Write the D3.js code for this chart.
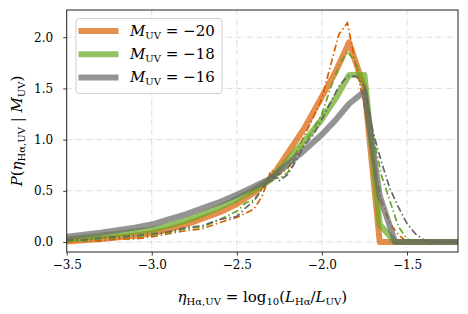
<!DOCTYPE html>
<html>
<head>
<meta charset="utf-8">
<script src="https://cdn.jsdelivr.net/npm/d3@7"></script>
<style>
  body { margin: 0; background: #fff; }
  svg { display: block; }
  text { font-family: 'DejaVu Serif', 'Liberation Serif', serif; fill: #000; }
</style>
</head>
<body>
<div id="chart"></div>
<script>
// model curves (thick) and binned curves (dash-dot)
const xModel = [-3.5, -3.3, -3.1, -3.0, -2.9, -2.8, -2.7, -2.6, -2.5, -2.4, -2.3, -2.2, -2.1, -2.0, -1.92, -1.84, -1.75, -1.66, -1.57, -1.2];
const model20 = [0.005, 0.03, 0.06, 0.085, 0.12, 0.17, 0.23, 0.29, 0.37, 0.48, 0.62, 0.87, 1.12, 1.42, 1.66, 1.95, 1.50, 0, 0, 0];
const model18 = [0.025, 0.06, 0.10, 0.12, 0.16, 0.21, 0.27, 0.34, 0.42, 0.51, 0.61, 0.80, 0.99, 1.20, 1.40, 1.63, 1.63, 0.17, 0, 0];
const model16 = [0.05, 0.09, 0.14, 0.17, 0.22, 0.27, 0.33, 0.39, 0.46, 0.54, 0.62, 0.76, 0.90, 1.05, 1.19, 1.35, 1.47, 0.45, 0, 0];

const xObs = [-3.5, -3.4, -3.3, -3.2, -3.1, -3.0, -2.9, -2.8, -2.7, -2.6, -2.5, -2.45, -2.4, -2.35, -2.3, -2.25, -2.2, -2.15, -2.1, -2.05, -2.0, -1.95, -1.9, -1.85, -1.8, -1.75, -1.7, -1.65, -1.6, -1.55, -1.5, -1.45, -1.4, -1.35, -1.3, -1.2];
const obs20 = [0.00, 0.01, 0.01, 0.03, 0.03, 0.05, 0.08, 0.11, 0.13, 0.19, 0.24, 0.28, 0.32, 0.45, 0.70, 0.66, 0.72, 0.88, 1.05, 1.22, 1.40, 1.72, 2.03, 2.14, 1.72, 1.33, 0.80, 0.40, 0.18, 0.07, 0.00, 0, 0, 0, 0, 0];
const obs18 = [0.01, 0.01, 0.03, 0.04, 0.05, 0.07, 0.09, 0.13, 0.15, 0.22, 0.30, 0.38, 0.41, 0.52, 0.64, 0.62, 0.68, 0.84, 0.97, 1.10, 1.25, 1.50, 1.72, 1.86, 1.75, 1.50, 1.05, 0.65, 0.40, 0.15, 0.03, 0, 0, 0, 0, 0];
const obs16 = [0.02, 0.02, 0.04, 0.05, 0.06, 0.08, 0.10, 0.14, 0.16, 0.22, 0.25, 0.33, 0.40, 0.52, 0.65, 0.60, 0.66, 0.80, 0.95, 1.05, 1.20, 1.36, 1.52, 1.62, 1.62, 1.52, 1.08, 0.78, 0.52, 0.34, 0.18, 0.08, 0.02, 0, 0, 0];

const muvLabels = ['\u221220', '\u221218', '\u221216'];
const colors = ['#d95f02', '#66a61e', '#666666'];
const xTicks = [-3.5, -3.0, -2.5, -2.0, -1.5];
const yTicks = [0.0, 0.5, 1.0, 1.5, 2.0];

const W = 468, H = 314;
const margin = { top: 10, right: 10, bottom: 62, left: 66.7 };

const svg = d3.select('#chart').append('svg').attr('width', W).attr('height', H);

const x = d3.scaleLinear().domain([-3.5, -1.2]).range([margin.left, W - margin.right]);
const y = d3.scaleLinear().domain([-0.098, 2.266]).range([H - margin.bottom, margin.top]);

const fmt = (d) => (d < 0 ? '\u2212' : '') + Math.abs(d).toFixed(1);

// grid
const grid = svg.append('g').attr('stroke', '#d6d6d6').attr('stroke-width', 0.9)
  .attr('stroke-dasharray', '5,2,1,2');
grid.selectAll('.gx').data(xTicks).join('line')
  .attr('x1', (d) => x(d)).attr('x2', (d) => x(d))
  .attr('y1', margin.top).attr('y2', H - margin.bottom);
grid.selectAll('.gy').data(yTicks).join('line')
  .attr('x1', margin.left).attr('x2', W - margin.right)
  .attr('y1', (d) => y(d)).attr('y2', (d) => y(d));

svg.append('clipPath').attr('id', 'clip').append('rect')
  .attr('x', margin.left).attr('y', margin.top)
  .attr('width', W - margin.left - margin.right).attr('height', H - margin.top - margin.bottom);

const plot = svg.append('g').attr('clip-path', 'url(#clip)');
const models = [model20, model18, model16];
const obs = [obs20, obs18, obs16];
const line = d3.line().x((d) => x(d[0])).y((d) => y(d[1]));

models.forEach((m, i) => {
  plot.append('path')
    .datum(xModel.map((v, j) => [v, m[j]]))
    .attr('d', line)
    .attr('fill', 'none')
    .attr('stroke', colors[i])
    .attr('stroke-opacity', 0.7)
    .attr('stroke-width', 6)
    .attr('stroke-linejoin', 'round');
  plot.append('path')
    .datum(xObs.map((v, j) => [v, obs[i][j]]))
    .attr('d', line)
    .attr('fill', 'none')
    .attr('stroke', colors[i])
    .attr('stroke-width', 1.7)
    .attr('stroke-dasharray', '7,2.8,1.5,2.8');
});

// axes
const xAxis = svg.append('g').attr('transform', `translate(0,${H - margin.bottom})`)
  .call(d3.axisBottom(x).tickValues(xTicks).tickFormat(fmt).tickSize(3.5).tickPadding(5));
const yAxis = svg.append('g').attr('transform', `translate(${margin.left},0)`)
  .call(d3.axisLeft(y).tickValues(yTicks).tickFormat((d) => d.toFixed(1)).tickSize(3.5).tickPadding(10));
[xAxis, yAxis].forEach((a) => {
  a.select('.domain').remove();
  a.selectAll('text').attr('font-size', 12).attr('font-family', "'DejaVu Serif', serif");
  a.selectAll('line').attr('stroke', '#000').attr('stroke-width', 0.8);
});

svg.append('rect')
  .attr('x', margin.left).attr('y', margin.top)
  .attr('width', W - margin.left - margin.right).attr('height', H - margin.top - margin.bottom)
  .attr('fill', 'none').attr('stroke', '#222').attr('stroke-width', 1);

// axis labels
const xl = svg.append('text').attr('x', (margin.left + W - margin.right) / 2).attr('y', 302)
  .attr('text-anchor', 'middle').attr('font-size', 15);
xl.append('tspan').attr('font-style', 'italic').text('\u03b7');
xl.append('tspan').attr('font-size', 10).attr('dy', 3).text('H\u03b1,UV');
xl.append('tspan').attr('dy', -3).text(' = log');
xl.append('tspan').attr('font-size', 10).attr('dy', 3).text('10');
xl.append('tspan').attr('dy', -3).text('(');
xl.append('tspan').attr('font-style', 'italic').text('L');
xl.append('tspan').attr('font-size', 10).attr('dy', 3).text('H\u03b1');
xl.append('tspan').attr('dy', -3).text('/');
xl.append('tspan').attr('font-style', 'italic').text('L');
xl.append('tspan').attr('font-size', 10).attr('dy', 3).text('UV');
xl.append('tspan').attr('dy', -3).text(')');

const yl = svg.append('text')
  .attr('transform', `translate(22,${(margin.top + H - margin.bottom) / 2}) rotate(-90)`)
  .attr('text-anchor', 'middle').attr('font-size', 15);
yl.append('tspan').attr('font-style', 'italic').text('P');
yl.append('tspan').text('(');
yl.append('tspan').attr('font-style', 'italic').text('\u03b7');
yl.append('tspan').attr('font-size', 10).attr('dy', 3).text('H\u03b1,UV');
yl.append('tspan').attr('dy', -3).text(' | ');
yl.append('tspan').attr('font-style', 'italic').text('M');
yl.append('tspan').attr('font-size', 10).attr('dy', 3).text('UV');
yl.append('tspan').attr('dy', -3).text(')');

// legend
const lg = svg.append('g').attr('transform', 'translate(76,18.5)');
lg.append('rect').attr('width', 146).attr('height', 75).attr('rx', 3)
  .attr('fill', '#fff').attr('fill-opacity', 0.8)
  .attr('stroke', '#d0d0d0').attr('stroke-width', 1);
muvLabels.forEach((lab, i) => {
  const ry = 12.5 + i * 23.2;
  lg.append('line').attr('x1', 2.5).attr('x2', 42.5).attr('y1', ry).attr('y2', ry)
    .attr('stroke', colors[i]).attr('stroke-opacity', 0.7).attr('stroke-width', 6);
  const t = lg.append('text').attr('x', 54).attr('y', ry + 5).attr('font-size', 15);
  t.append('tspan').attr('font-style', 'italic').text('M');
  t.append('tspan').attr('font-size', 10).attr('dy', 3).text('UV');
  t.append('tspan').attr('dy', -3).text(' = ' + lab);
});
</script>
</body>
</html>
